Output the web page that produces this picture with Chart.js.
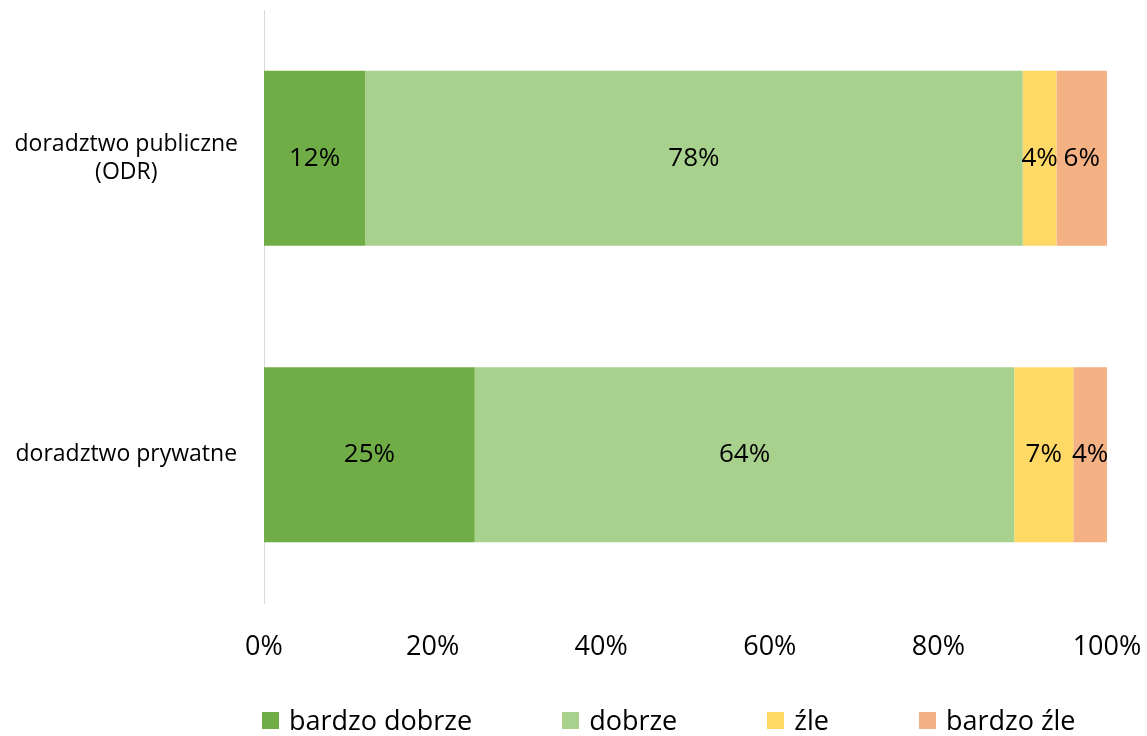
<!DOCTYPE html>
<html lang="pl">
<head>
<meta charset="utf-8">
<script src="https://cdn.jsdelivr.net/npm/chart.js@4"></script>
<style>
  html, body { margin: 0; padding: 0; background: #fff; }
  #wrap { width: 1147px; height: 736px; position: relative; }
  #legend {
    position: absolute; left: 262px; top: 703px;
    display: flex; gap: 90px;
    font: 27px 'Open Sans', 'Liberation Sans', sans-serif; color: #000;
    line-height: 34px;
  }
  #legend span.item { display: flex; align-items: center; white-space: nowrap; }
  #legend i { display: inline-block; width: 17px; height: 17px; margin-right: 10px; }
</style>
</head>
<body>
<div id="wrap">
  <canvas id="chart"></canvas>
  <div id="legend"></div>
</div>
<script>
// Dane
const categories = [["doradztwo publiczne", "(ODR)"], "doradztwo prywatne"];
const seriesNames = ["bardzo dobrze", "dobrze", "źle", "bardzo źle"];
const bardzoDobrze = [12, 25];
const dobrze = [78, 64];
const zle = [4, 7];
const bardzoZle = [6, 4];
const xTicks = [0, 20, 40, 60, 80, 100];
const colors = ["#70AD47", "#A9D18E", "#FFD966", "#F4B183"];

const FONT = "'Open Sans', 'Liberation Sans', sans-serif";

// Etykiety wartości w środku segmentów
const valueLabels = {
  id: "valueLabels",
  afterDatasetsDraw(chart) {
    const ctx = chart.ctx;
    ctx.save();
    ctx.font = "26px " + FONT;
    ctx.fillStyle = "#000";
    ctx.textAlign = "center";
    ctx.textBaseline = "middle";
    chart.data.datasets.forEach((ds, i) => {
      const meta = chart.getDatasetMeta(i);
      meta.data.forEach((bar, j) => {
        const x = (bar.x + bar.base) / 2;
        ctx.fillText(ds.data[j] + "%", x, bar.y);
      });
    });
    ctx.restore();
  },
};

const values = [bardzoDobrze, dobrze, zle, bardzoZle];

const chart = new Chart(document.getElementById("chart"), {
  type: "bar",
  data: {
    labels: categories,
    datasets: seriesNames.map((name, i) => ({
      label: name,
      data: values[i],
      backgroundColor: colors[i],
    })),
  },
  options: {
    indexAxis: "y",
    responsive: true,
    maintainAspectRatio: false,
    animation: false,
    datasets: { bar: { barPercentage: 0.59, categoryPercentage: 1.0 } },
    layout: { padding: { top: 10, right: 7, left: 13, bottom: 0 } },
    scales: {
      x: {
        stacked: true,
        min: 0,
        max: 100,
        afterBuildTicks: (axis) => { axis.ticks = xTicks.map((v) => ({ value: v })); },
        afterFit: (axis) => {
          axis.height = 133;
          axis.paddingLeft = 0;
          axis.paddingRight = 40;
        },
        grid: { display: false },
        border: { display: false },
        ticks: {
          padding: 20,
          maxRotation: 0,
          color: "#000",
          font: { family: FONT, size: 27 },
          callback: (v) => v + "%",
        },
      },
      y: {
        stacked: true,
        grid: { display: false },
        border: { display: true, color: "#d9d9d9", width: 1 },
        afterFit: (axis) => {
          axis.width = 251;
          axis.paddingTop = 0;
          axis.paddingBottom = 0;
        },
        ticks: {
          padding: 18,
          crossAlign: "center",
          color: "#000",
          font: { family: FONT, size: 23 },
        },
      },
    },
    plugins: {
      legend: { display: false },
      tooltip: { enabled: false },
    },
  },
  plugins: [valueLabels],
});

// Legenda
const legendEl = document.getElementById("legend");
seriesNames.forEach((name, i) => {
  legendEl.innerHTML += `<span class="item"><i style="background:${colors[i]}"></i>${name}</span>`;
});
</script>
</body>
</html>
